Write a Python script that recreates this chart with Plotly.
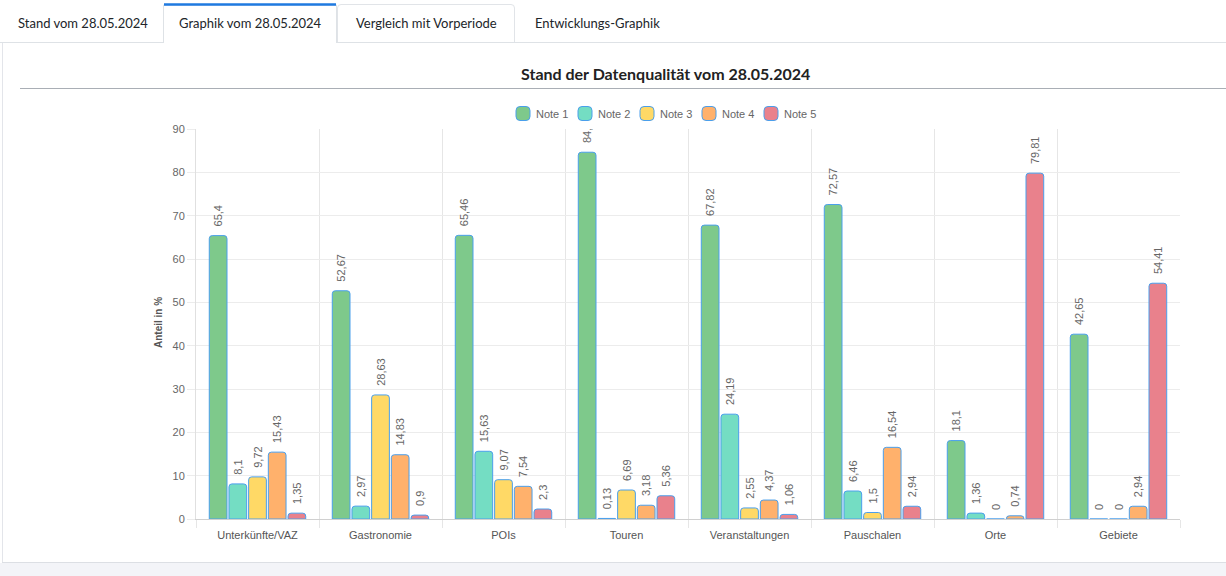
import plotly.graph_objects as go

categories = ["Unterkünfte/VAZ", "Gastronomie", "POIs", "Touren",
              "Veranstaltungen", "Pauschalen", "Orte", "Gebiete"]
note1 = [65.4, 52.67, 65.46, 84.64, 67.82, 72.57, 18.1, 42.65]
note2 = [8.1, 2.97, 15.63, 0.13, 24.19, 6.46, 1.36, 0]
note3 = [9.72, 28.63, 9.07, 6.69, 2.55, 1.5, 0, 0]
note4 = [15.43, 14.83, 7.54, 3.18, 4.37, 16.54, 0.74, 2.94]
note5 = [1.35, 0.9, 2.3, 5.36, 1.06, 2.94, 79.81, 54.41]
series_names = ["Note 1", "Note 2", "Note 3", "Note 4", "Note 5"]
tabs = ["Stand vom 28.05.2024", "Graphik vom 28.05.2024",
        "Vergleich mit Vorperiode", "Entwicklungs-Graphik"]

colors = ["#7ec98b", "#74ddc3", "#ffd966", "#ffb16c", "#e9818c"]
border = "#4a9fec"

# plot area in pixels
W, H = 1226, 576
L, R, T, B = 196, 1180, 129, 519


def px(x):
    return (x - L) / (R - L)


def py(y):
    return (B - y) / (B - T)


def de(v):
    # german decimal comma, small lead so the label sits a bit above the bar
    return "\u00a0\u00a0" + f"{v:g}".replace(".", ",")


def rounded_box(x0, y0, x1, y1, r):
    # path in paper coords, pixel inputs
    return (f"M {px(x0 + r)},{py(y0)} L {px(x1 - r)},{py(y0)} "
            f"Q {px(x1)},{py(y0)} {px(x1)},{py(y0 + r)} "
            f"L {px(x1)},{py(y1 - r)} Q {px(x1)},{py(y1)} {px(x1 - r)},{py(y1)} "
            f"L {px(x0 + r)},{py(y1)} Q {px(x0)},{py(y1)} {px(x0)},{py(y1 - r)} "
            f"L {px(x0)},{py(y0 + r)} Q {px(x0)},{py(y0)} {px(x0 + r)},{py(y0)} Z")


fig = go.Figure()
for name, vals, col in zip(series_names, [note1, note2, note3, note4, note5], colors):
    fig.add_trace(go.Bar(
        x=categories, y=vals, name=name,
        marker=dict(color=col, line=dict(color=border, width=1), cornerradius=3),
        text=[de(v) for v in vals],
        textposition="outside", textangle=-90, constraintext="none",
        textfont=dict(family="Liberation Sans, Arial", size=11, color="#666"),
        cliponaxis=True,
    ))

shapes = []
annotations = []

# page background strip and card
shapes.append(dict(type="rect", xref="paper", yref="paper",
                   x0=px(-5), x1=px(W + 5), y0=py(563), y1=py(W),
                   fillcolor="#f3f4f8", line=dict(width=0), layer="below"))
shapes.append(dict(type="line", xref="paper", yref="paper",
                   x0=px(2.5), x1=px(2.5), y0=py(42), y1=py(562),
                   line=dict(color="#e3e5ea", width=1)))
shapes.append(dict(type="line", xref="paper", yref="paper",
                   x0=px(2), x1=px(W), y0=py(562.5), y1=py(562.5),
                   line=dict(color="#dcdfe4", width=1)))

# tab bar
tab_edges = [3, 163, 337, 515, 680]
shapes.append(dict(type="line", xref="paper", yref="paper",
                   x0=px(0), x1=px(W), y0=py(42.5), y1=py(42.5),
                   line=dict(color="#dee2e6", width=1)))
# active tab (no bottom edge)
shapes.append(dict(type="rect", xref="paper", yref="paper",
                   x0=px(163), x1=px(337), y0=py(43.5), y1=py(4),
                   fillcolor="white", line=dict(width=0)))
shapes.append(dict(type="path", xref="paper", yref="paper",
                   path=f"M {px(163.5)},{py(43)} L {px(163.5)},{py(5)} "
                        f"L {px(336.5)},{py(5)} L {px(336.5)},{py(43)}",
                   line=dict(color="#dee2e6", width=1)))
shapes.append(dict(type="line", xref="paper", yref="paper",
                   x0=px(164), x1=px(336), y0=py(4.5), y1=py(4.5),
                   line=dict(color="#1f7ae0", width=2.5)))
# hovered tab
shapes.append(dict(type="path", xref="paper", yref="paper",
                   path=f"M {px(337.5)},{py(42)} L {px(337.5)},{py(8)} "
                        f"Q {px(337.5)},{py(4.5)} {px(341)},{py(4.5)} "
                        f"L {px(511)},{py(4.5)} Q {px(514.5)},{py(4.5)} {px(514.5)},{py(8)} "
                        f"L {px(514.5)},{py(42)}",
                   line=dict(color="#e1e4e8", width=1)))
for i, t in enumerate(tabs):
    annotations.append(dict(
        x=px((tab_edges[i] + tab_edges[i + 1]) / 2), y=py(23),
        xref="paper", yref="paper", xanchor="center", yanchor="middle",
        text=t, showarrow=False,
        font=dict(family="Lato", size=13, color="#212529"),
    ))

# chart title and rule
annotations.append(dict(
    x=px(665), y=py(73), xref="paper", yref="paper",
    xanchor="center", yanchor="middle",
    text="<b>Stand der Datenqualität vom 28.05.2024</b>", showarrow=False,
    font=dict(family="Lato", size=16, color="#222"),
))
shapes.append(dict(type="line", xref="paper", yref="paper",
                   x0=px(20), x1=px(W), y0=py(88.5), y1=py(88.5),
                   line=dict(color="#a9aeb5", width=1)))

# legend, drawn as chart.js does it
for i, (name, col) in enumerate(zip(series_names, colors)):
    x0 = 516 + 62 * i
    shapes.append(dict(type="path", xref="paper", yref="paper",
                       path=rounded_box(x0, 106.5, x0 + 14, 120.5, 4),
                       fillcolor=col, line=dict(color=border, width=1)))
    annotations.append(dict(
        x=px(x0 + 18), y=py(114), xref="paper", yref="paper",
        xanchor="left", yanchor="middle", text=name, showarrow=False,
        font=dict(family="Liberation Sans, Arial", size=11, color="#666"),
    ))

# y-axis title
annotations.append(dict(
    x=px(158), y=py(323), xref="paper", yref="paper",
    xanchor="center", yanchor="middle",
    text="<b>Anteil in %</b>", showarrow=False, textangle=-90,
    font=dict(family="Liberation Sans, Arial", size=10, color="#555"),
))

fig.update_layout(
    width=W, height=H,
    margin=dict(l=L, r=W - R, t=T, b=H - B),
    paper_bgcolor="white", plot_bgcolor="white",
    barmode="group", bargap=0.2, bargroupgap=0.1,
    showlegend=False,
    shapes=shapes, annotations=annotations,
    xaxis=dict(type="category", tickson="boundaries", showgrid=True,
               gridcolor="#e6e6e6", ticks="outside", ticklen=8,
               tickcolor="#e6e6e6", showline=True, linecolor="#d0d0d0",
               ticklabelstandoff=6,
               tickfont=dict(family="Liberation Sans, Arial", size=11, color="#555")),
    yaxis=dict(range=[0, 90], dtick=10, showgrid=True, gridcolor="#ececec",
               ticks="outside", ticklen=8, tickcolor="#ececec",
               showline=True, linecolor="#e0e0e0", zeroline=False,
               tickfont=dict(family="Liberation Sans, Arial", size=11, color="#666")),
    font=dict(family="Liberation Sans, Arial"),
)

fig.write_html("out.html", config={"displayModeBar": False},
               post_script="document.body.style.margin='0px';")
